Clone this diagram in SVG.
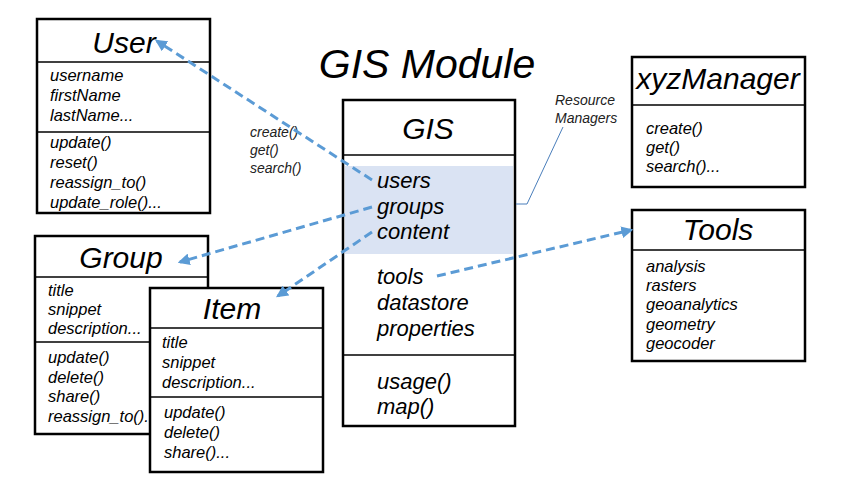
<svg xmlns="http://www.w3.org/2000/svg" width="850" height="482" viewBox="0 0 850 482">
<defs>
<style>
.box{fill:#fff;stroke:#000;stroke-width:2.5}
.ln{stroke:#000;stroke-width:1.3}
.t{font-family:"Liberation Sans","Open Sans",sans-serif;font-style:italic;fill:#000}
.h{font-size:30px;text-anchor:middle}
.b{font-size:16.5px}
.g{font-size:22px}
.s{font-size:14px;fill:#222}
.con{fill:none;stroke:#5B9BD5;stroke-width:3;stroke-dasharray:9 5}
</style>
<marker id="ah" viewBox="0 0 10 10" refX="8" refY="5" markerWidth="4" markerHeight="4" orient="auto-start-reverse" markerUnits="strokeWidth">
<path d="M0,0 L10,5 L0,10 z" fill="#5B9BD5"/>
</marker>
</defs>
<rect width="850" height="482" fill="#fff"/>
<text class="t" x="427" y="78" font-size="41" text-anchor="middle">GIS Module</text>

<g id="user">
<rect class="box" x="37" y="19" width="173" height="194"/>
<line class="ln" x1="37" y1="62" x2="210" y2="62"/>
<line class="ln" x1="37" y1="132" x2="210" y2="132"/>
<text class="t h" x="124" y="53">User</text>
<text class="t b" x="50" y="81">username</text>
<text class="t b" x="50" y="101">firstName</text>
<text class="t b" x="50" y="121">lastName...</text>
<text class="t b" x="50" y="148">update()</text>
<text class="t b" x="50" y="168">reset()</text>
<text class="t b" x="50" y="188">reassign_to()</text>
<text class="t b" x="50" y="208">update_role()...</text>
</g>

<g id="group">
<rect class="box" x="35" y="236" width="173" height="198"/>
<line class="ln" x1="35" y1="277" x2="208" y2="277"/>
<line class="ln" x1="35" y1="342" x2="208" y2="342"/>
<text class="t h" x="121" y="268">Group</text>
<text class="t b" x="48" y="296">title</text>
<text class="t b" x="48" y="315">snippet</text>
<text class="t b" x="48" y="334">description...</text>
<text class="t b" x="48" y="363">update()</text>
<text class="t b" x="48" y="383">delete()</text>
<text class="t b" x="48" y="402">share()</text>
<text class="t b" x="48" y="422">reassign_to()...</text>
</g>

<g id="item">
<rect class="box" x="150" y="288" width="173" height="184"/>
<line class="ln" x1="150" y1="328" x2="323" y2="328"/>
<line class="ln" x1="150" y1="397" x2="323" y2="397"/>
<text class="t h" x="232" y="319">Item</text>
<text class="t b" x="162" y="348">title</text>
<text class="t b" x="162" y="368">snippet</text>
<text class="t b" x="162" y="388">description...</text>
<text class="t b" x="164" y="418">update()</text>
<text class="t b" x="164" y="438">delete()</text>
<text class="t b" x="164" y="458">share()...</text>
</g>

<g id="gis">
<rect class="box" x="343" y="100" width="172" height="326"/>
<rect x="345" y="166" width="168" height="88" fill="#DAE3F3"/>
<line class="ln" x1="343" y1="155" x2="515" y2="155"/>
<line class="ln" x1="343" y1="355" x2="515" y2="355"/>
<text class="t h" x="428" y="139" font-size="36">GIS</text>
<text class="t g" x="377" y="188">users</text>
<text class="t g" x="377" y="214">groups</text>
<text class="t g" x="377" y="239">content</text>
<text class="t g" x="377" y="284">tools</text>
<text class="t g" x="377" y="310">datastore</text>
<text class="t g" x="377" y="336">properties</text>
<text class="t g" x="377" y="389">usage()</text>
<text class="t g" x="377" y="414">map()</text>
</g>

<g id="xyzManager">
<rect class="box" x="632" y="57" width="173" height="130"/>
<line class="ln" x1="632" y1="105" x2="805" y2="105"/>
<text class="t h" x="718" y="89">xyzManager</text>
<text class="t b" x="646" y="134">create()</text>
<text class="t b" x="646" y="153">get()</text>
<text class="t b" x="646" y="172">search()...</text>
</g>

<g id="tools">
<rect class="box" x="632" y="210" width="173" height="151"/>
<line class="ln" x1="632" y1="250" x2="805" y2="250"/>
<text class="t h" x="718" y="240">Tools</text>
<text class="t b" x="646" y="272">analysis</text>
<text class="t b" x="646" y="291">rasters</text>
<text class="t b" x="646" y="310">geoanalytics</text>
<text class="t b" x="646" y="330">geometry</text>
<text class="t b" x="646" y="349">geocoder</text>
</g>

<g id="labels">
<text class="t s" x="250" y="137">create()</text>
<text class="t s" x="250" y="155">get()</text>
<text class="t s" x="250" y="173">search()</text>
<text class="t s" x="555" y="105">Resource</text>
<text class="t s" x="555" y="123">Managers</text>
</g>

<g id="connectors">
<polyline points="563,127 527,204 516,204" fill="none" stroke="#4A7EBB" stroke-width="1"/>
<line class="con" x1="372" y1="180" x2="157" y2="41" marker-end="url(#ah)"/>
<line class="con" x1="372" y1="207" x2="180" y2="262" marker-end="url(#ah)"/>
<line class="con" x1="372" y1="232" x2="278" y2="296" marker-end="url(#ah)"/>
<line class="con" x1="437" y1="276" x2="631" y2="230" marker-end="url(#ah)"/>
</g>
</svg>
